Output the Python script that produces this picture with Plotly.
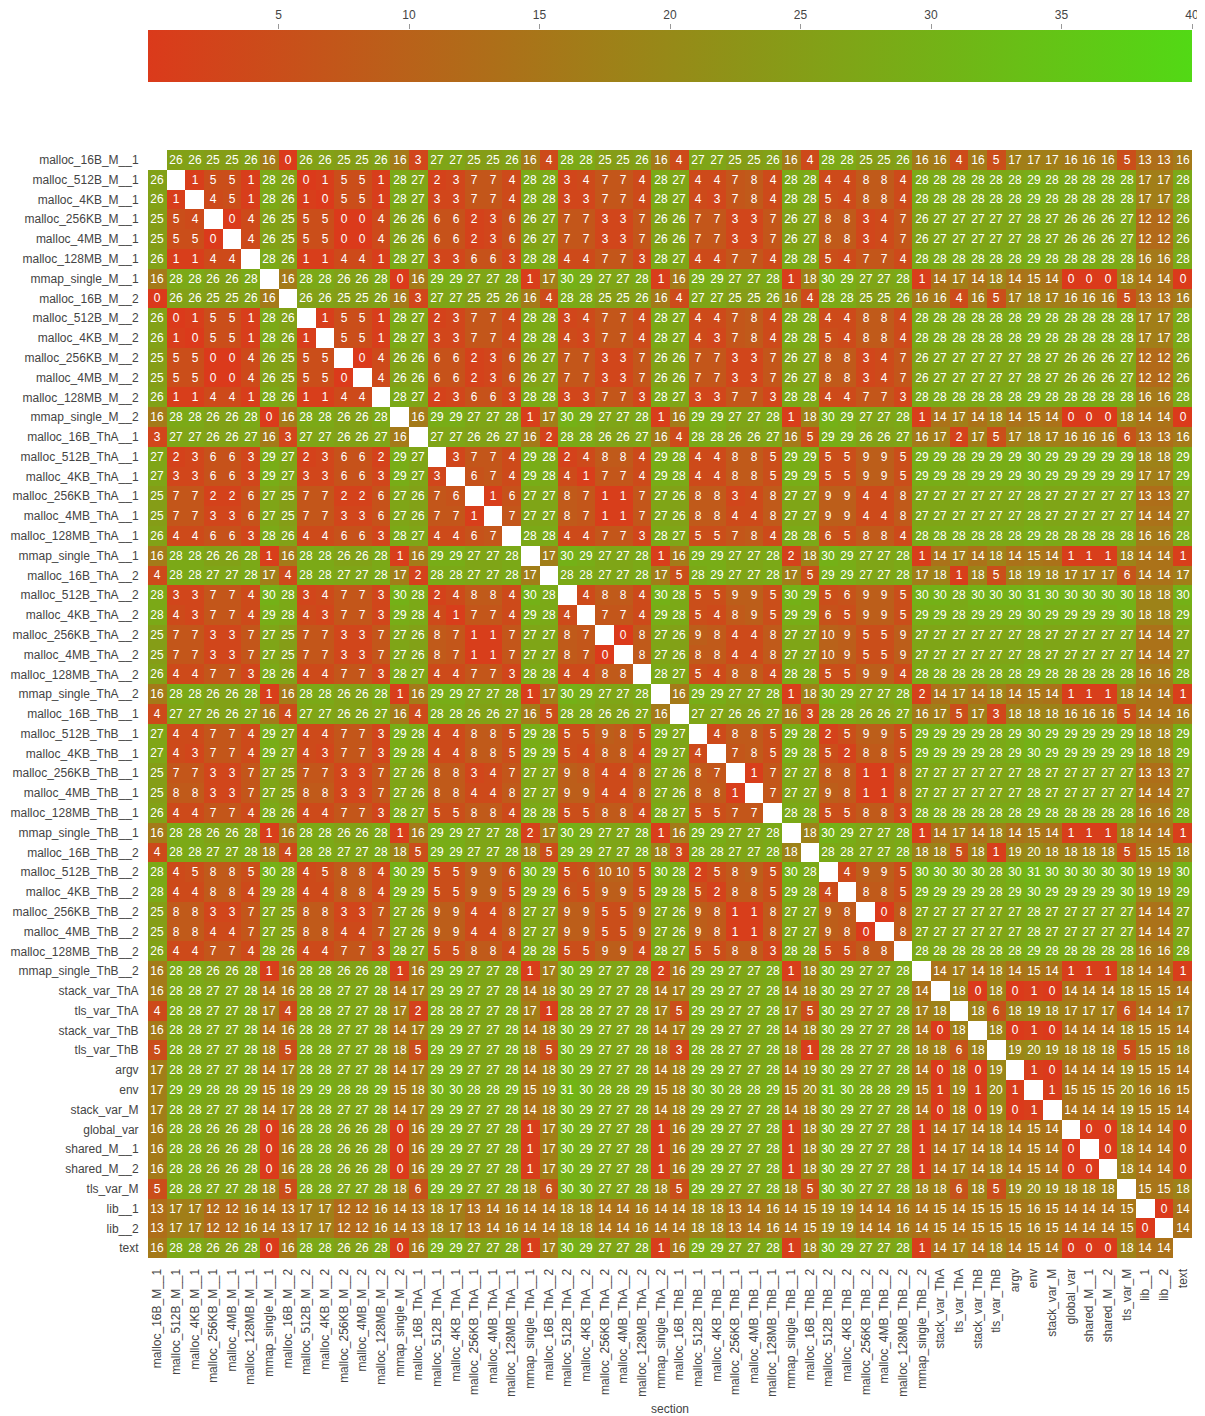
import plotly.graph_objects as go

N = None

labels = [
    "malloc_16B_M__1", "malloc_512B_M__1", "malloc_4KB_M__1", "malloc_256KB_M__1", "malloc_4MB_M__1", "malloc_128MB_M__1", "mmap_single_M__1",
    "malloc_16B_M__2", "malloc_512B_M__2", "malloc_4KB_M__2", "malloc_256KB_M__2", "malloc_4MB_M__2", "malloc_128MB_M__2", "mmap_single_M__2",
    "malloc_16B_ThA__1", "malloc_512B_ThA__1", "malloc_4KB_ThA__1", "malloc_256KB_ThA__1", "malloc_4MB_ThA__1", "malloc_128MB_ThA__1", "mmap_single_ThA__1",
    "malloc_16B_ThA__2", "malloc_512B_ThA__2", "malloc_4KB_ThA__2", "malloc_256KB_ThA__2", "malloc_4MB_ThA__2", "malloc_128MB_ThA__2", "mmap_single_ThA__2",
    "malloc_16B_ThB__1", "malloc_512B_ThB__1", "malloc_4KB_ThB__1", "malloc_256KB_ThB__1", "malloc_4MB_ThB__1", "malloc_128MB_ThB__1", "mmap_single_ThB__1",
    "malloc_16B_ThB__2", "malloc_512B_ThB__2", "malloc_4KB_ThB__2", "malloc_256KB_ThB__2", "malloc_4MB_ThB__2", "malloc_128MB_ThB__2", "mmap_single_ThB__2",
    "stack_var_ThA", "tls_var_ThA", "stack_var_ThB", "tls_var_ThB", "argv", "env", "stack_var_M",
    "global_var", "shared_M__1", "shared_M__2", "tls_var_M", "lib__1", "lib__2", "text",
]

r01 = [N,26,26,25,25,26,16, 0,26,26,25,25,26,16, 3,27,27,25,25,26,16, 4,28,28,25,25,26,16, 4,27,27,25,25,26,16, 4,28,28,25,25,26,16, 16,4,16,5,17,17,17, 16,16,16,5,13,13,16]
r02 = [26,N,1,5,5,1,28, 26,0,1,5,5,1,28, 27,2,3,7,7,4,28, 28,3,4,7,7,4,28, 27,4,4,7,8,4,28, 28,4,4,8,8,4,28, 28,28,28,28,28,29,28, 28,28,28,28,17,17,28]
r03 = [26,1,N,4,5,1,28, 26,1,0,5,5,1,28, 27,3,3,7,7,4,28, 28,3,3,7,7,4,28, 27,4,3,7,8,4,28, 28,5,4,8,8,4,28, 28,28,28,28,28,29,28, 28,28,28,28,17,17,28]
r04 = [25,5,4,N,0,4,26, 25,5,5,0,0,4,26, 26,6,6,2,3,6,26, 27,7,7,3,3,7,26, 26,7,7,3,3,7,26, 27,8,8,3,4,7,26, 27,27,27,27,27,28,27, 26,26,26,27,12,12,26]
r05 = [25,5,5,0,N,4,26, 25,5,5,0,0,4,26, 26,6,6,2,3,6,26, 27,7,7,3,3,7,26, 26,7,7,3,3,7,26, 27,8,8,3,4,7,26, 27,27,27,27,27,28,27, 26,26,26,27,12,12,26]
r06 = [26,1,1,4,4,N,28, 26,1,1,4,4,1,28, 27,3,3,6,6,3,28, 28,4,4,7,7,3,28, 27,4,4,7,7,4,28, 28,5,4,7,7,4,28, 28,28,28,28,28,29,28, 28,28,28,28,16,16,28]
r07 = [16,28,28,26,26,28,N, 16,28,28,26,26,28,0, 16,29,29,27,27,28,1, 17,30,29,27,27,28,1, 16,29,29,27,27,28,1, 18,30,29,27,27,28,1, 14,17,14,18,14,15,14, 0,0,0,18,14,14,0]
r08 = [0,26,26,25,25,26,16, N,26,26,25,25,26,16, 3,27,27,25,25,26,16, 4,28,28,25,25,26,16, 4,27,27,25,25,26,16, 4,28,28,25,25,26,16, 16,4,16,5,17,18,17, 16,16,16,5,13,13,16]
r09 = [26,0,1,5,5,1,28, 26,N,1,5,5,1,28, 27,2,3,7,7,4,28, 28,3,4,7,7,4,28, 27,4,4,7,8,4,28, 28,4,4,8,8,4,28, 28,28,28,28,28,29,28, 28,28,28,28,17,17,28]
r10 = [26,1,0,5,5,1,28, 26,1,N,5,5,1,28, 27,3,3,7,7,4,28, 28,4,3,7,7,4,28, 27,4,3,7,8,4,28, 28,5,4,8,8,4,28, 28,28,28,28,28,29,28, 28,28,28,28,17,17,28]
r11 = [25,5,5,0,0,4,26, 25,5,5,N,0,4,26, 26,6,6,2,3,6,26, 27,7,7,3,3,7,26, 26,7,7,3,3,7,26, 27,8,8,3,4,7,26, 27,27,27,27,27,28,27, 26,26,26,27,12,12,26]
r12 = [25,5,5,0,0,4,26, 25,5,5,0,N,4,26, 26,6,6,2,3,6,26, 27,7,7,3,3,7,26, 26,7,7,3,3,7,26, 27,8,8,3,4,7,26, 27,27,27,27,27,28,27, 26,26,26,27,12,12,26]
r13 = [26,1,1,4,4,1,28, 26,1,1,4,4,N,28, 27,2,3,6,6,3,28, 28,3,3,7,7,3,28, 27,3,3,7,7,3,28, 28,4,4,7,7,3,28, 28,28,28,28,28,29,28, 28,28,28,28,16,16,28]
r14 = [16,28,28,26,26,28,0, 16,28,28,26,26,28,N, 16,29,29,27,27,28,1, 17,30,29,27,27,28,1, 16,29,29,27,27,28,1, 18,30,29,27,27,28,1, 14,17,14,18,14,15,14, 0,0,0,18,14,14,0]
r15 = [3,27,27,26,26,27,16, 3,27,27,26,26,27,16, N,27,27,26,26,27,16, 2,28,28,26,26,27,16, 4,28,28,26,26,27,16, 5,29,29,26,26,27,16, 17,2,17,5,17,18,17, 16,16,16,6,13,13,16]
r16 = [27,2,3,6,6,3,29, 27,2,3,6,6,2,29, 27,N,3,7,7,4,29, 28,2,4,8,8,4,29, 28,4,4,8,8,5,29, 29,5,5,9,9,5,29, 29,28,29,29,29,30,29, 29,29,29,29,18,18,29]
r17 = [27,3,3,6,6,3,29, 27,3,3,6,6,3,29, 27,3,N,6,7,4,29, 28,4,1,7,7,4,29, 28,4,4,8,8,5,29, 29,5,5,9,9,5,29, 29,28,29,29,29,30,29, 29,29,29,29,17,17,29]
r18 = [25,7,7,2,2,6,27, 25,7,7,2,2,6,27, 26,7,6,N,1,6,27, 27,8,7,1,1,7,27, 26,8,8,3,4,8,27, 27,9,9,4,4,8,27, 27,27,27,27,27,28,27, 27,27,27,27,13,13,27]
r19 = [25,7,7,3,3,6,27, 25,7,7,3,3,6,27, 26,7,7,1,N,7,27, 27,8,7,1,1,7,27, 26,8,8,4,4,8,27, 27,9,9,4,4,8,27, 27,27,27,27,27,28,27, 27,27,27,27,14,14,27]
r20 = [26,4,4,6,6,3,28, 26,4,4,6,6,3,28, 27,4,4,6,7,N,28, 28,4,4,7,7,3,28, 27,5,5,7,8,4,28, 28,6,5,8,8,4,28, 28,28,28,28,28,29,28, 28,28,28,28,16,16,28]
r21 = [16,28,28,26,26,28,1, 16,28,28,26,26,28,1, 16,29,29,27,27,28,N, 17,30,29,27,27,28,1, 16,29,29,27,27,28,2, 18,30,29,27,27,28,1, 14,17,14,18,14,15,14, 1,1,1,18,14,14,1]
r22 = [4,28,28,27,27,28,17, 4,28,28,27,27,28,17, 2,28,28,27,27,28,17, N,28,28,27,27,28,17, 5,28,29,27,27,28,17, 5,29,29,27,27,28,17, 18,1,18,5,18,19,18, 17,17,17,6,14,14,17]
r23 = [28,3,3,7,7,4,30, 28,3,4,7,7,3,30, 28,2,4,8,8,4,30, 28,N,4,8,8,4,30, 28,5,5,9,9,5,30, 29,5,6,9,9,5,30, 30,28,30,30,30,31,30, 30,30,30,30,18,18,30]
r24 = [28,4,3,7,7,4,29, 28,4,3,7,7,3,29, 28,4,1,7,7,4,29, 28,4,N,7,7,4,29, 28,5,4,8,9,5,29, 29,6,5,9,9,5,29, 29,28,29,29,29,30,29, 29,29,29,30,18,18,29]
r25 = [25,7,7,3,3,7,27, 25,7,7,3,3,7,27, 26,8,7,1,1,7,27, 27,8,7,N,0,8,27, 26,9,8,4,4,8,27, 27,10,9,5,5,9,27, 27,27,27,27,27,28,27, 27,27,27,27,14,14,27]
r26 = [25,7,7,3,3,7,27, 25,7,7,3,3,7,27, 26,8,7,1,1,7,27, 27,8,7,0,N,8,27, 26,8,8,4,4,8,27, 27,10,9,5,5,9,27, 27,27,27,27,27,28,27, 27,27,27,27,14,14,27]
r27 = [26,4,4,7,7,3,28, 26,4,4,7,7,3,28, 27,4,4,7,7,3,28, 28,4,4,8,8,N,28, 27,5,4,8,8,4,28, 28,5,5,9,9,4,28, 28,28,28,28,28,29,28, 28,28,28,28,16,16,28]
r28 = [16,28,28,26,26,28,1, 16,28,28,26,26,28,1, 16,29,29,27,27,28,1, 17,30,29,27,27,28,N, 16,29,29,27,27,28,1, 18,30,29,27,27,28,2, 14,17,14,18,14,15,14, 1,1,1,18,14,14,1]
r29 = [4,27,27,26,26,27,16, 4,27,27,26,26,27,16, 4,28,28,26,26,27,16, 5,28,28,26,26,27,16, N,27,27,26,26,27,16, 3,28,28,26,26,27,16, 17,5,17,3,18,18,18, 16,16,16,5,14,14,16]
r30 = [27,4,4,7,7,4,29, 27,4,4,7,7,3,29, 28,4,4,8,8,5,29, 28,5,5,9,8,5,29, 27,N,4,8,8,5,29, 28,2,5,9,9,5,29, 29,29,29,28,29,30,29, 29,29,29,29,18,18,29]
r31 = [27,4,3,7,7,4,29, 27,4,3,7,7,3,29, 28,4,4,8,8,5,29, 29,5,4,8,8,4,29, 27,4,N,7,8,5,29, 28,5,2,8,8,5,29, 29,29,29,28,29,30,29, 29,29,29,29,18,18,29]
r32 = [25,7,7,3,3,7,27, 25,7,7,3,3,7,27, 26,8,8,3,4,7,27, 27,9,8,4,4,8,27, 26,8,7,N,1,7,27, 27,8,8,1,1,8,27, 27,27,27,27,27,28,27, 27,27,27,27,13,13,27]
r33 = [25,8,8,3,3,7,27, 25,8,8,3,3,7,27, 26,8,8,4,4,8,27, 27,9,9,4,4,8,27, 26,8,8,1,N,7,27, 27,9,8,1,1,8,27, 27,27,27,27,27,28,27, 27,27,27,27,14,14,27]
r34 = [26,4,4,7,7,4,28, 26,4,4,7,7,3,28, 27,5,5,8,8,4,28, 28,5,5,8,8,4,28, 27,5,5,7,7,N,28, 28,5,5,8,8,3,28, 28,28,28,28,28,29,28, 28,28,28,28,16,16,28]
r35 = [16,28,28,26,26,28,1, 16,28,28,26,26,28,1, 16,29,29,27,27,28,2, 17,30,29,27,27,28,1, 16,29,29,27,27,28,N, 18,30,29,27,27,28,1, 14,17,14,18,14,15,14, 1,1,1,18,14,14,1]
r36 = [4,28,28,27,27,28,18, 4,28,28,27,27,28,18, 5,29,29,27,27,28,18, 5,29,29,27,27,28,18, 3,28,28,27,27,28,18, N,28,28,27,27,28,18, 18,5,18,1,19,20,18, 18,18,18,5,15,15,18]
r37 = [28,4,5,8,8,5,30, 28,4,5,8,8,4,30, 29,5,5,9,9,6,30, 29,5,6,10,10,5,30, 28,2,5,8,9,5,30, 28,N,4,9,9,5,30, 30,30,30,28,30,31,30, 30,30,30,30,19,19,30]
r38 = [28,4,4,8,8,4,29, 28,4,4,8,8,4,29, 29,5,5,9,9,5,29, 29,6,5,9,9,5,29, 28,5,2,8,8,5,29, 28,4,N,8,8,5,29, 29,29,29,28,29,30,29, 29,29,29,30,19,19,29]
r39 = [25,8,8,3,3,7,27, 25,8,8,3,3,7,27, 26,9,9,4,4,8,27, 27,9,9,5,5,9,27, 26,9,8,1,1,8,27, 27,9,8,N,0,8,27, 27,27,27,27,27,28,27, 27,27,27,27,14,14,27]
r40 = [25,8,8,4,4,7,27, 25,8,8,4,4,7,27, 26,9,9,4,4,8,27, 27,9,9,5,5,9,27, 26,9,8,1,1,8,27, 27,9,8,0,N,8,27, 27,27,27,27,27,28,27, 27,27,27,27,14,14,27]
r41 = [26,4,4,7,7,4,28, 26,4,4,7,7,3,28, 27,5,5,8,8,4,28, 28,5,5,9,9,4,28, 27,5,5,8,8,3,28, 28,5,5,8,8,N,28, 28,28,28,28,28,29,28, 28,28,28,28,16,16,28]
r42 = [16,28,28,26,26,28,1, 16,28,28,26,26,28,1, 16,29,29,27,27,28,1, 17,30,29,27,27,28,2, 16,29,29,27,27,28,1, 18,30,29,27,27,28,N, 14,17,14,18,14,15,14, 1,1,1,18,14,14,1]
r43 = [16,28,28,27,27,28,14, 16,28,28,27,27,28,14, 17,29,29,27,27,28,14, 18,30,29,27,27,28,14, 17,29,29,27,27,28,14, 18,30,29,27,27,28,14, N,18,0,18,0,1,0, 14,14,14,18,15,15,14]
r44 = [4,28,28,27,27,28,17, 4,28,28,27,27,28,17, 2,28,28,27,27,28,17, 1,28,28,27,27,28,17, 5,29,29,27,27,28,17, 5,30,29,27,27,28,17, 18,N,18,6,18,19,18, 17,17,17,6,14,14,17]
r45 = [16,28,28,27,27,28,14, 16,28,28,27,27,28,14, 17,29,29,27,27,28,14, 18,30,29,27,27,28,14, 17,29,29,27,27,28,14, 18,30,29,27,27,28,14, 0,18,N,18,0,1,0, 14,14,14,18,15,15,14]
r46 = [5,28,28,27,27,28,18, 5,28,28,27,27,28,18, 5,29,29,27,27,28,18, 5,30,29,27,27,28,18, 3,28,28,27,27,28,18, 1,28,28,27,27,28,18, 18,6,18,N,19,20,19, 18,18,18,5,15,15,18]
r47 = [17,28,28,27,27,28,14, 17,28,28,27,27,28,14, 17,29,29,27,27,28,14, 18,30,29,27,27,28,14, 18,29,29,27,27,28,14, 19,30,29,27,27,28,14, 0,18,0,19,N,1,0, 14,14,14,19,15,15,14]
r48 = [17,29,29,28,28,29,15, 18,29,29,28,28,29,15, 18,30,30,28,28,29,15, 19,31,30,28,28,29,15, 18,30,30,28,28,29,15, 20,31,30,28,28,29,15, 1,19,1,20,1,N,1, 15,15,15,20,16,16,15]
r49 = [17,28,28,27,27,28,14, 17,28,28,27,27,28,14, 17,29,29,27,27,28,14, 18,30,29,27,27,28,14, 18,29,29,27,27,28,14, 18,30,29,27,27,28,14, 0,18,0,19,0,1,N, 14,14,14,19,15,15,14]
r50 = [16,28,28,26,26,28,0, 16,28,28,26,26,28,0, 16,29,29,27,27,28,1, 17,30,29,27,27,28,1, 16,29,29,27,27,28,1, 18,30,29,27,27,28,1, 14,17,14,18,14,15,14, N,0,0,18,14,14,0]
r51 = [16,28,28,26,26,28,0, 16,28,28,26,26,28,0, 16,29,29,27,27,28,1, 17,30,29,27,27,28,1, 16,29,29,27,27,28,1, 18,30,29,27,27,28,1, 14,17,14,18,14,15,14, 0,N,0,18,14,14,0]
r52 = [16,28,28,26,26,28,0, 16,28,28,26,26,28,0, 16,29,29,27,27,28,1, 17,30,29,27,27,28,1, 16,29,29,27,27,28,1, 18,30,29,27,27,28,1, 14,17,14,18,14,15,14, 0,0,N,18,14,14,0]
r53 = [5,28,28,27,27,28,18, 5,28,28,27,27,28,18, 6,29,29,27,27,28,18, 6,30,30,27,27,28,18, 5,29,29,27,27,28,18, 5,30,30,27,27,28,18, 18,6,18,5,19,20,19, 18,18,18,N,15,15,18]
r54 = [13,17,17,12,12,16,14, 13,17,17,12,12,16,14, 13,18,17,13,14,16,14, 14,18,18,14,14,16,14, 14,18,18,13,14,16,14, 15,19,19,14,14,16,14, 15,14,15,15,15,16,15, 14,14,14,15,N,0,14]
r55 = [13,17,17,12,12,16,14, 13,17,17,12,12,16,14, 13,18,17,13,14,16,14, 14,18,18,14,14,16,14, 14,18,18,13,14,16,14, 15,19,19,14,14,16,14, 15,14,15,15,15,16,15, 14,14,14,15,0,N,14]
r56 = [16,28,28,26,26,28,0, 16,28,28,26,26,28,0, 16,29,29,27,27,28,1, 17,30,29,27,27,28,1, 16,29,29,27,27,28,1, 18,30,29,27,27,28,1, 14,17,14,18,14,15,14, 0,0,0,18,14,14,N]

z_rows = [r01, r02, r03, r04, r05, r06, r07, r08, r09, r10, r11, r12, r13, r14,
          r15, r16, r17, r18, r19, r20, r21, r22, r23, r24, r25, r26, r27, r28,
          r29, r30, r31, r32, r33, r34, r35, r36, r37, r38, r39, r40, r41, r42,
          r43, r44, r45, r46, r47, r48, r49, r50, r51, r52, r53, r54, r55, r56]

cb_range = [0, 40]
cb_ticks = [5, 10, 15, 20, 25, 30, 35, 40]

FONT = "Liberation Sans, Arial, sans-serif"

# figure geometry (figure is offset by the page's 8px body margin)
FIG_W, FIG_H = 1197, 1408
M_L, M_R, M_T, M_B = 140, 13, 22, 158
PLOT_TOP = 142      # figure px of the heatmap's top edge
BAR_BOTTOM = 74     # figure px of the colour bar's bottom edge
paper_h = FIG_H - M_T - M_B
y_top = 1 - (PLOT_TOP - M_T) / paper_h
y_bar = 1 - (BAR_BOTTOM - M_T) / paper_h

fig = go.Figure()
fig.add_trace(go.Heatmap(
    z=z_rows, x=labels, y=labels,
    zmin=cb_range[0], zmax=cb_range[1],
    colorscale=[[0, "#db3a1b"], [1, "#52d915"]],
    texttemplate="%{z}",
    textfont=dict(family=FONT, size=12, color="white"),
    hoverongaps=False,
    xgap=0, ygap=0,
    colorbar=dict(
        orientation="h",
        thickness=52, len=1, lenmode="fraction",
        x=0.5, xanchor="center",
        y=1, yanchor="top",
        outlinewidth=0, xpad=0, ypad=0,
        ticks="", showticklabels=False,
    ),
))
# invisible helper so the colour-scale axis (x2) is drawn above the colour bar
fig.add_trace(go.Scatter(
    x=cb_range, y=[0, 0], xaxis="x2", yaxis="y2",
    mode="markers", marker=dict(opacity=0, size=1),
    hoverinfo="skip", showlegend=False,
))

fig.update_layout(
    width=FIG_W, height=FIG_H,
    margin=dict(l=M_L, r=M_R, t=M_T, b=M_B, autoexpand=False),
    paper_bgcolor="white", plot_bgcolor="rgba(0,0,0,0)",
    font=dict(family=FONT, size=12, color="#444"),
    xaxis=dict(
        automargin=False,
        tickangle=-90, showgrid=False, zeroline=False, showline=False,
        ticks="outside", ticklen=5, tickcolor="rgba(0,0,0,0)",
        tickfont=dict(family=FONT, size=12, color="#444"),
        title=dict(text="section", font=dict(family=FONT, size=12, color="#444"), standoff=18),
    ),
    yaxis=dict(
        automargin=False, domain=[0, y_top],
        autorange="reversed", showgrid=False, zeroline=False, showline=False,
        ticks="outside", ticklen=6, tickcolor="rgba(0,0,0,0)",
        tickfont=dict(family=FONT, size=12, color="#444"),
    ),
    xaxis2=dict(
        anchor="y2", domain=[0, 1], side="top",
        range=cb_range, tickvals=cb_ticks, automargin=False,
        showgrid=False, zeroline=False, showline=False,
        ticks="outside", ticklen=5, tickcolor="#999",
        tickfont=dict(family=FONT, size=12, color="#444"),
        fixedrange=True,
    ),
    yaxis2=dict(
        anchor="x2", domain=[y_bar, 1], visible=False,
        showgrid=False, zeroline=False, fixedrange=True,
    ),
    showlegend=False,
)

fig.write_html("out.html")
